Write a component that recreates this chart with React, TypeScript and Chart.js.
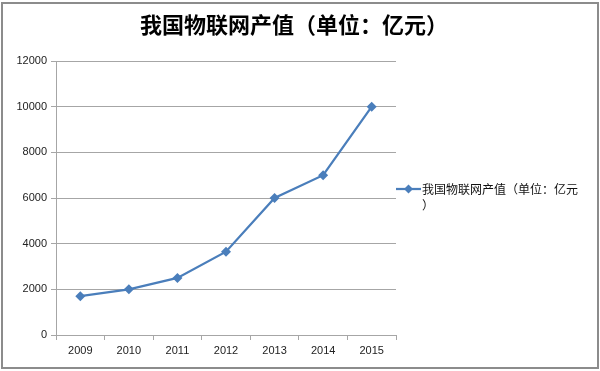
import React, { useEffect, useRef } from "react";
import { Chart, registerables } from "chart.js";

Chart.register(...registerables);

const years = ["2009", "2010", "2011", "2012", "2013", "2014", "2015"];
const values = [1700, 2000, 2500, 3650, 6000, 7000, 10000];
const seriesName = "我国物联网产值（单位：亿元）";
const titleText = "我国物联网产值（单位：亿元）";
const legendLines = ["我国物联网产值（单位：亿元", "）"];

const lineColor = "#4a7ebb";
const gridColor = "#a6a6a6";

const frameAndLegend = {
  id: "frameAndLegend",
  afterDraw(chart: any) {
    const ctx = chart.ctx;
    ctx.save();
    ctx.strokeStyle = "#8c8c8c";
    ctx.lineWidth = 2;
    ctx.strokeRect(2, 3, chart.width - 4, chart.height - 6);
    // title
    ctx.fillStyle = "#000";
    ctx.font = "bold 22px 'Noto Sans CJK SC', serif";
    ctx.textAlign = "center";
    ctx.textBaseline = "middle";
    ctx.fillText(titleText, 294, 25);
    // legend
    const y = 189;
    ctx.strokeStyle = lineColor;
    ctx.lineWidth = 2.25;
    ctx.beginPath();
    ctx.moveTo(396, y);
    ctx.lineTo(421, y);
    ctx.stroke();
    ctx.fillStyle = lineColor;
    ctx.beginPath();
    ctx.moveTo(408.5, y - 4.5);
    ctx.lineTo(413, y);
    ctx.lineTo(408.5, y + 4.5);
    ctx.lineTo(404, y);
    ctx.closePath();
    ctx.fill();
    ctx.fillStyle = "#111";
    ctx.font = "12px 'Noto Sans CJK SC', sans-serif";
    ctx.textBaseline = "middle";
    ctx.textAlign = "left";
    ctx.fillText(legendLines[0], 422, y);
    ctx.fillText(legendLines[1], 422, y + 16);
    ctx.restore();
  },
};

export default function App() {
  const ref = useRef<HTMLCanvasElement>(null);
  useEffect(() => {
    document.body.style.margin = "0";
    const chart = new Chart(ref.current!, {
      type: "line",
      data: {
        labels: years,
        datasets: [
          {
            label: seriesName,
            data: values,
            borderColor: lineColor,
            backgroundColor: lineColor,
            borderWidth: 2.25,
            pointStyle: "rectRot",
            pointRadius: 5,
            pointBorderWidth: 0,
            tension: 0,
          },
        ],
      },
      plugins: [frameAndLegend],
      options: {
        responsive: false,
        animation: false,
        layout: { padding: { left: 0, right: 204, top: 61, bottom: 0 } },
        plugins: {
          legend: { display: false },
          tooltip: { enabled: false },
          title: { display: false },
        },
        scales: {
          x: {
            offset: true,
            grid: {
              display: true,
              offset: true,
              drawOnChartArea: false,
              drawTicks: true,
              tickLength: 5,
              color: gridColor,
            },
            border: { display: true, color: gridColor, width: 1 },
            ticks: {
              color: "#222",
              font: { family: "'Liberation Sans', Arial, sans-serif", size: 11 },
              padding: 4,
              maxRotation: 0,
            },
            afterFit(scale: any) {
              scale.height = 36;
            },
          },
          y: {
            min: 0,
            max: 12000,
            ticks: {
              stepSize: 2000,
              color: "#222",
              font: { family: "'Liberation Sans', Arial, sans-serif", size: 11 },
              padding: 4,
              callback: (v: any) => String(v),
            },
            grid: { color: gridColor, tickLength: 5, lineWidth: 1 },
            border: { display: true, color: gridColor, width: 1 },
            afterFit(scale: any) {
              scale.width = 56;
            },
          },
        },
      } as any,
    });
    return () => chart.destroy();
  }, []);
  return <canvas ref={ref} width={600} height={371} style={{ display: "block" }} />;
}
